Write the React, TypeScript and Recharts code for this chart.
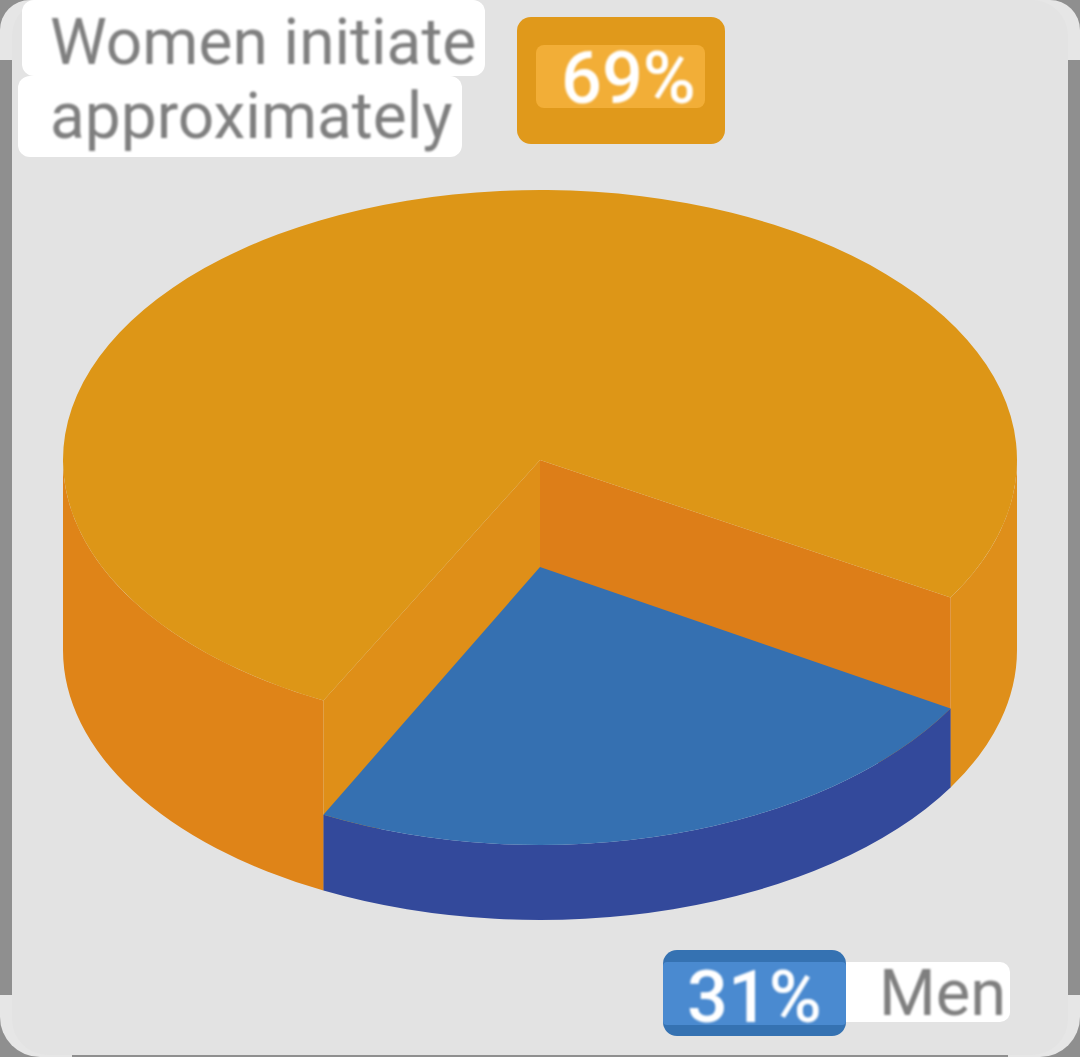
import { PieChart, Pie } from "recharts";

// 3D pie: the flat Pie only supplies the angles, the tilted look comes from the custom shape.
const sliceNames = ["Women", "Men"];
// shares as printed on the badges
const printedShares = ["69%", "31%"];
// shares as the slices are actually drawn in the picture (the blue wedge is narrower than 31%)
const drawnShares = [76, 24];
const sliceColors = ["#DD9617", "#3570B1"];

const data = sliceNames.map((name, i) => ({ name, value: drawnShares[i], fill: sliceColors[i] }));

const RY_RATIO = 270 / 477;
const MEN_RY_RATIO = 278 / 477;
const DEPTH = 190;
const MEN_DROP = 107;

const pt = (cx: number, cy: number, rx: number, ry: number, deg: number) => {
  const r = (deg * Math.PI) / 180;
  return [cx + rx * Math.cos(r), cy - ry * Math.sin(r)];
};

// arc between two angles, written as a path continuation
const arcTo = (cx: number, cy: number, rx: number, ry: number, from: number, to: number) => {
  const [x, y] = pt(cx, cy, rx, ry, to);
  const large = Math.abs(to - from) > 180 ? 1 : 0;
  const sweep = to < from ? 1 : 0;
  return `A ${rx} ${ry} 0 ${large} ${sweep} ${x} ${y}`;
};

const wallPath = (cx: number, topY: number, botY: number, rx: number, topRy: number, botRy: number, from: number, to: number) => {
  const [x0, y0] = pt(cx, topY, rx, topRy, from);
  const [x1, y1] = pt(cx, botY, rx, botRy, to);
  return `M ${x0} ${y0} ${arcTo(cx, topY, rx, topRy, from, to)} L ${x1} ${y1} ${arcTo(cx, botY, rx, botRy, to, from)} Z`;
};

const facePath = (cx: number, cy: number, rx: number, ry: number, from: number, to: number) => {
  const [x0, y0] = pt(cx, cy, rx, ry, from);
  return `M ${cx} ${cy} L ${x0} ${y0} ${arcTo(cx, cy, rx, ry, from, to)} Z`;
};

function Slice3D(props: any) {
  const { cx, cy, outerRadius: rx, startAngle, endAngle, fill, name } = props;
  const ry = rx * RY_RATIO;
  const bottom = cy + DEPTH;

  if (name === "Men") {
    const top = cy + MEN_DROP;
    const menRy = rx * MEN_RY_RATIO;
    return (
      <g>
        <path d={wallPath(cx, top, bottom, rx, menRy, ry, startAngle, endAngle)} fill="#33499B" />
        <path d={facePath(cx, top, rx, menRy, startAngle, endAngle)} fill={fill} />
      </g>
    );
  }

  const [lx, ly] = pt(cx, cy, rx, ry, startAngle);
  const [rxx, ryy] = pt(cx, cy, rx, ry, endAngle);
  return (
    <g>
      {/* outer walls, left and right of the cut */}
      <path d={wallPath(cx, cy, bottom, rx, ry, ry, startAngle, -180)} fill="#DF8418" />
      <path d={wallPath(cx, cy, bottom, rx, ry, ry, -360, endAngle)} fill="#DF8F1A" />
      {/* the two cut walls */}
      <path d={`M ${cx} ${cy} L ${lx} ${ly} L ${lx} ${ly + DEPTH} L ${cx} ${bottom} Z`} fill="#DF8F18" />
      <path d={`M ${cx} ${cy} L ${rxx} ${ryy} L ${rxx} ${ryy + DEPTH} L ${cx} ${bottom} Z`} fill="#DD7E18" />
      <path d={facePath(cx, cy, rx, ry, startAngle, endAngle)} fill={fill} />
    </g>
  );
}

const box = (left: number, top: number, width: number, height: number, background: string, borderRadius: number | string = 0): React.CSSProperties => ({
  position: "absolute",
  left,
  top,
  width,
  height,
  background,
  borderRadius,
});

// the reference is a soft upscaled screenshot
const labelFont: React.CSSProperties = {
  position: "absolute",
  fontFamily: "Roboto, sans-serif",
  whiteSpace: "nowrap",
  lineHeight: 1,
  filter: "blur(0.8px)",
};

export default function App() {
  return (
    <div style={{ position: "absolute", left: 0, top: 0, width: 1080, height: 1057, overflow: "hidden", background: "#8F8F8F" }}>
      {/* card */}
      <div style={box(0, 0, 1080, 60, "#E6E6E6", "30px 30px 0 0")} />
      <div style={box(0, 995, 1080, 62, "#E6E6E6", "0 0 40px 40px")} />
      <div style={box(12, 0, 1056, 1055, "#E3E3E3", 36)} />
      <div style={box(72, 1055, 936, 2, "#8F8F8F")} />

      <div style={{ position: "absolute", left: 0, top: 0, filter: "blur(0.7px)" }}>
        <PieChart width={1080} height={1057} margin={{ top: 0, right: 0, bottom: 0, left: 0 }}>
          <Pie
            data={data}
            dataKey="value"
            nameKey="name"
            cx={540}
            cy={460}
            outerRadius={477}
            startAngle={-117}
            endAngle={-477}
            stroke="none"
            isAnimationActive={false}
            shape={Slice3D}
          />
        </PieChart>
      </div>

      {/* title */}
      <div style={box(22, 0, 463, 76, "#FFFFFF", 12)} />
      <div style={box(18, 76, 444, 81, "#FFFFFF", 12)} />
      <div style={{ ...labelFont, left: 50, top: 11, fontSize: 64, color: "#7F7F7F" }}>Women initiate</div>
      <div style={{ ...labelFont, left: 50, top: 85, fontSize: 64, color: "#7F7F7F" }}>approximately</div>

      {/* women badge */}
      <div style={box(517, 17, 208, 127, "#E0991B", 14)} />
      <div style={box(536, 45, 169, 63, "#F2AE37", 8)} />
      <div style={{ ...labelFont, left: 561, top: 43, fontSize: 72, fontWeight: 500, color: "#FFFFFF" }}>{printedShares[0]}</div>

      {/* men badge */}
      <div style={box(845, 962, 165, 60, "#FFFFFF", "0 10px 10px 0")} />
      <div style={box(663, 950, 183, 86, "#3572B2", 14)} />
      <div style={box(663, 962, 183, 63, "#4A8AD0", 4)} />
      <div style={{ ...labelFont, left: 687, top: 962, fontSize: 72, fontWeight: 500, color: "#FFFFFF" }}>{printedShares[1]}</div>
      <div style={{ ...labelFont, left: 879, top: 961, fontSize: 65, color: "#7F7F7F" }}>{sliceNames[1]}</div>
    </div>
  );
}
